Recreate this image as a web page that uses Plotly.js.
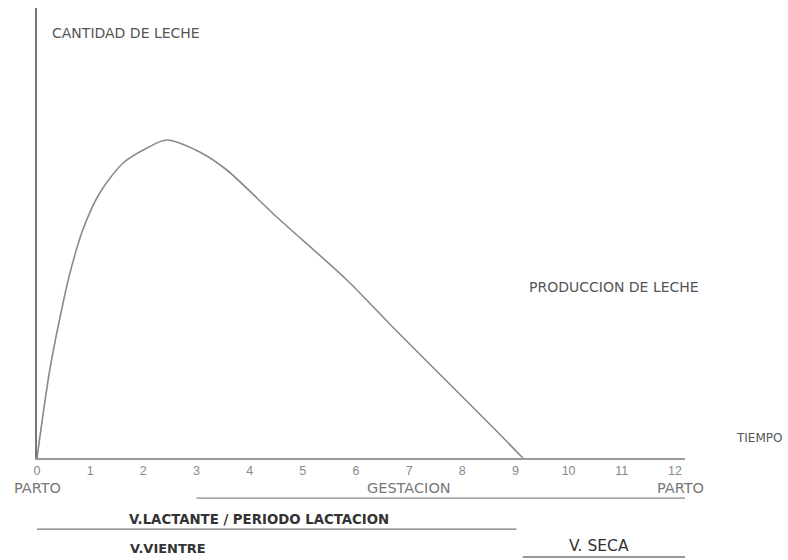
<!DOCTYPE html>
<html>
<head>
<meta charset="utf-8">
<script src="https://cdn.plot.ly/plotly-3.0.1.min.js"></script>
<style>html,body{margin:0;padding:0;background:#fff;}#chart{width:788px;height:560px;}</style>
</head>
<body>
<div id="chart"></div>
<script>
// Months after calving (x) and milk quantity (arbitrary units, y)
const months = [0, 0.24, 0.49, 0.62, 0.86, 1.18, 1.62, 2.07, 2.44, 3.06, 3.57, 4.51, 5.83, 6.69, 7.63, 8.57, 9.14];
const milk   = [0, 88, 155, 185, 228, 265, 295, 310, 318, 306, 288, 241, 178, 131, 81, 31, 0];

const tickVals = [0,1,2,3,4,5,6,7,8,9,10,11,12];
const tickText = ['0','1','2','3','4','5','6','7','8','9','10','11','12'];

// Phase bars under the axis: [start, end]
const gestacion = [3.0, 12.2];
const lactante  = [-0.04, 9.02];
const seca      = [9.14, 12.2];

const grayText = '#555';
const fam = 'DejaVu Sans, Verdana, sans-serif';
const famTick = 'Liberation Sans, Arial, sans-serif';

const trace = {
  x: months, y: milk, type: 'scatter', mode: 'lines',
  line: {color: '#8a8a8a', width: 1.6, shape: 'spline', smoothing: 0.8},
  hoverinfo: 'skip', showlegend: false
};

function ann(text, x, y, xanchor, font, xref) {
  return {
    text: text, x: x, y: y, xref: xref || 'x', yref: 'paper',
    xanchor: xanchor, yanchor: 'middle', showarrow: false, font: font
  };
}
function seg(range, y, color, w) {
  return {type: 'line', xref: 'x', yref: 'paper', x0: range[0], x1: range[1], y0: y, y1: y,
          line: {color: color, width: w}};
}
const fGray = {family: fam, size: 14, color: grayText};
const fLow  = {family: fam, size: 14.5, color: '#777'};
const fBold = {family: fam, size: 13.3, color: '#333'};

const layout = {
  width: 788, height: 560,
  margin: {l: 37, r: 103, t: 8, b: 102},
  paper_bgcolor: '#fff', plot_bgcolor: '#fff',
  xaxis: {
    range: [0, 12.19], showgrid: false, zeroline: false,
    showline: true, linecolor: '#9a9a9a', linewidth: 2,
    tickvals: tickVals, ticktext: tickText, ticks: '',
    tickfont: {family: famTick, size: 12.5, color: '#888'}
  },
  yaxis: {
    range: [0, 450], showgrid: false, zeroline: false,
    showline: true, linecolor: '#777', linewidth: 2,
    showticklabels: false, ticks: ''
  },
  shapes: [
    seg(gestacion, -0.089, '#888', 1.2),
    seg(lactante, -0.158, '#777', 1.4),
    seg(seca, -0.22, '#777', 1.4)
  ],
  annotations: [
    ann('CANTIDAD DE LECHE', 0.24, 0.944, 'left', fGray),
    ann('PRODUCCION DE LECHE', 9.21, 0.38, 'left', fGray),
    ann('TIEMPO', 1.075, 0.044, 'left', {family: fam, size: 12, color: grayText}, 'paper'),
    ann('PARTO', 0, -0.067, 'center', fLow),
    ann('GESTACION', 7.0, -0.067, 'center', fLow),
    ann('PARTO', 12.1, -0.067, 'center', fLow),
    ann('<b>V.LACTANTE / PERIODO LACTACION</b>', 1.69, -0.136, 'left', fBold),
    ann('<b>V.VIENTRE</b>', 1.71, -0.2, 'left', {family: fam, size: 13, color: '#333'}),
    ann('V. SECA', 10.58, -0.196, 'center', {family: fam, size: 15.5, color: '#333'})
  ]
};

Plotly.newPlot('chart', [trace], layout, {displayModeBar: false, staticPlot: true});
</script>
</body>
</html>
